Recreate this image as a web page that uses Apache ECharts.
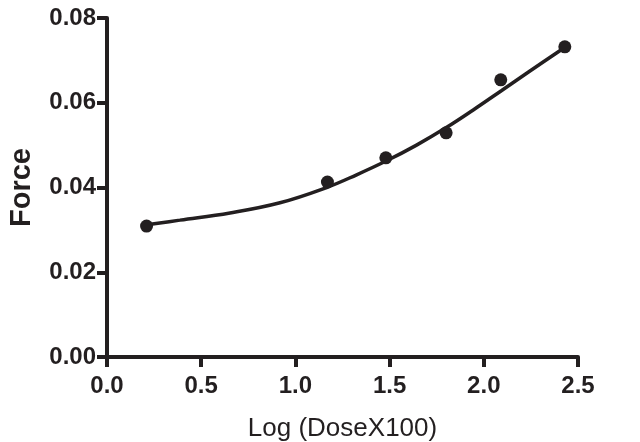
<!DOCTYPE html>
<html>
<head>
<meta charset="utf-8">
<script src="https://cdn.jsdelivr.net/npm/echarts@6/dist/echarts.min.js"></script>
<style>
html,body{margin:0;padding:0;background:#fff;}
#chart{width:640px;height:442px;}
</style>
</head>
<body>
<div id="chart"></div>
<script>
// Measured data points (x = Log(DoseX100), y = Force)
const pointX = [0.21, 1.17, 1.48, 1.80, 2.09, 2.43];
const pointY = [0.0309, 0.0413, 0.0470, 0.0529, 0.0654, 0.0732];
// Fitted curve
const curveX = [0.211, 0.387, 0.653, 0.918, 1.166, 1.325, 1.484, 1.643, 1.803, 1.944, 2.095, 2.245, 2.431];
const curveY = [0.0312, 0.0323, 0.0340, 0.0364, 0.0400, 0.0430, 0.0463, 0.0500, 0.0542, 0.0583, 0.0629, 0.0675, 0.0731];
const xTicks = [0, 0.5, 1.0, 1.5, 2.0, 2.5];
const yTicks = [0, 0.02, 0.04, 0.06, 0.08];
const xTitle = 'Log (DoseX100)';
const yTitle = 'Force';

const ink = '#231f20';
const font = '"Liberation Sans", Arial, sans-serif';

const chart = echarts.init(document.getElementById('chart'), null, {renderer: 'canvas'});
const axisCommon = {
  type: 'value',
  splitLine: {show: false},
  axisLine: {show: true, lineStyle: {color: ink, width: 4}},
  axisTick: {show: true, inside: false, length: 10, lineStyle: {color: ink, width: 4}},
};
chart.setOption({
  animation: false,
  backgroundColor: '#fff',
  grid: {left: 107, right: 62, top: 18, bottom: 85, containLabel: false, outerBoundsMode: 'none'},
  xAxis: Object.assign({}, axisCommon, {
    min: xTicks[0], max: xTicks[xTicks.length - 1], interval: 0.5,
    name: xTitle, nameLocation: 'middle', nameGap: 59,
    nameTextStyle: {color: ink, fontFamily: font, fontSize: 26, fontWeight: 'normal'},
    axisLabel: {color: ink, fontFamily: font, fontSize: 24, fontWeight: 'bold', margin: 17,
      formatter: v => v.toFixed(1)}
  }),
  yAxis: Object.assign({}, axisCommon, {
    min: yTicks[0], max: yTicks[yTicks.length - 1], interval: 0.02,
    name: yTitle, nameLocation: 'middle', nameGap: 71, nameRotate: 90,
    nameTextStyle: {color: ink, fontFamily: font, fontSize: 29, fontWeight: 'bold'},
    axisLabel: {color: ink, fontFamily: font, fontSize: 24, fontWeight: 'bold', margin: 11,
      formatter: v => v.toFixed(2)}
  }),
  series: [
    {
      type: 'line',
      data: curveX.map((x, i) => [x, curveY[i]]),
      smooth: 0.4,
      showSymbol: false,
      lineStyle: {color: ink, width: 3.5},
      z: 2
    },
    {
      type: 'scatter',
      data: pointX.map((x, i) => [x, pointY[i]]),
      symbol: 'circle',
      symbolSize: 13,
      itemStyle: {color: ink, opacity: 1},
      z: 3
    }
  ]
});
</script>
</body>
</html>
